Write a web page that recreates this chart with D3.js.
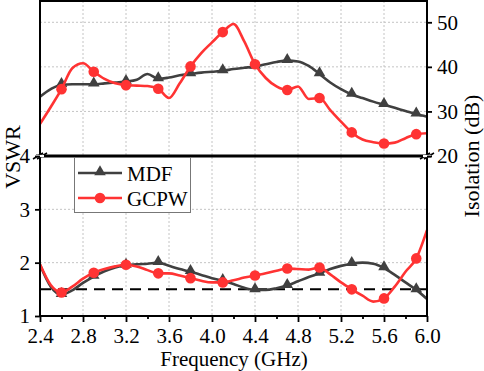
<!DOCTYPE html>
<html><head><meta charset="utf-8">
<script src="https://cdn.jsdelivr.net/npm/d3@7"></script>
<style>body{margin:0;background:#fff}svg{display:block}svg text{font-family:"Liberation Serif","Times New Roman",Times,serif !important}</style>
</head><body><svg id="c" width="484" height="371"></svg>
<script>
const freqs = d3.range(37).map(i => +(2.4 + i * 0.1).toFixed(1));
const markerFreqs = [2.6, 2.9, 3.2, 3.5, 3.8, 4.1, 4.4, 4.7, 5.0, 5.3, 5.6, 5.9];
const isoMDF = [33.3,35.0,36.0,36.1,36.1,36.1,36.3,36.5,36.7,37.1,38.4,37.3,37.6,38.1,38.4,38.7,38.9,39.1,39.5,39.8,40.1,40.6,41.1,41.4,41.2,40.2,38.4,36.5,35.0,33.8,33.0,32.2,31.5,30.8,30.1,29.4,28.8];
const isoGCPW = [27.2,31.0,35.0,39.7,40.8,38.9,37.3,36.3,35.9,35.8,35.7,35.1,33.0,36.3,40.1,43.1,45.5,47.8,49.6,45.7,40.6,37.5,35.6,34.8,35.6,32.8,33.0,30.3,27.7,25.3,23.7,23.1,22.8,23.0,24.0,24.9,25.1];
const vswrMDF = [1.96,1.55,1.40,1.48,1.62,1.74,1.84,1.91,1.95,1.97,1.98,2.00,1.94,1.88,1.83,1.77,1.71,1.66,1.60,1.53,1.49,1.49,1.52,1.57,1.65,1.73,1.80,1.88,1.94,1.98,2.00,1.98,1.90,1.77,1.63,1.49,1.32];
const vswrGCPW = [1.97,1.58,1.44,1.55,1.70,1.81,1.88,1.93,1.96,1.93,1.86,1.80,1.80,1.76,1.71,1.66,1.63,1.63,1.67,1.72,1.76,1.80,1.85,1.89,1.88,1.87,1.91,1.78,1.63,1.50,1.38,1.27,1.33,1.55,1.83,2.08,2.61];
const xTicks = [2.4, 2.8, 3.2, 3.6, 4.0, 4.4, 4.8, 5.2, 5.6, 6.0];
const isoTicks = [20, 30, 40, 50];
const vswrTicks = [1, 2, 3, 4];
const refVSWR = 1.5;
const seriesNames = ["MDF", "GCPW"];
const colors = {MDF: "#404040", GCPW: "#ff3333"};

const FONT = '"Liberation Serif","Times New Roman",Times,serif';
const svg = d3.select("#c");
const L = 40, R = 427, T = 1, MID = 156, B = 316;
const x = d3.scaleLinear().domain([2.4, 6.0]).range([L, R]);
const yT = d3.scaleLinear().domain([20, 55]).range([MID, T - 1]);
const yB = d3.scaleLinear().domain([1, 4]).range([B, MID]);

// grid
const g = svg.append("g").attr("stroke", "#c4c4c4").attr("stroke-width", 1).attr("stroke-dasharray", "2,2");
xTicks.slice(1, -1).forEach(t => {
  g.append("line").attr("x1", x(t)).attr("x2", x(t)).attr("y1", T).attr("y2", B);
});
isoTicks.slice(1).forEach(t => g.append("line").attr("x1", L).attr("x2", R).attr("y1", yT(t)).attr("y2", yT(t)));
vswrTicks.slice(1, -1).forEach(t => g.append("line").attr("x1", L).attr("x2", R).attr("y1", yB(t)).attr("y2", yB(t)));

// reference dashed line
svg.append("line").attr("x1", x(2.4)).attr("x2", x(6.0)).attr("y1", yB(refVSWR)).attr("y2", yB(refVSWR))
  .attr("stroke", "#000").attr("stroke-width", 2).attr("stroke-dasharray", "11,7");

function drawSeries(vals, y, name) {
  const data = freqs.map((f, i) => [f, vals[i]]);
  const line = d3.line().x(d => x(d[0])).y(d => y(d[1])).curve(d3.curveMonotoneX);
  svg.append("path").datum(data).attr("d", line).attr("fill", "none")
    .attr("stroke", colors[name]).attr("stroke-width", 2.6);
  const mk = data.filter(d => markerFreqs.some(m => Math.abs(m - d[0]) < 1e-6));
  if (name === "MDF") {
    const sym = d3.symbol().type(d3.symbolTriangle).size(58);
    svg.selectAll(null).data(mk).enter().append("path").attr("d", sym)
      .attr("transform", d => `translate(${x(d[0])},${y(d[1]) - 1})`).attr("fill", colors[name]);
  } else {
    svg.selectAll(null).data(mk).enter().append("circle").attr("cx", d => x(d[0])).attr("cy", d => y(d[1]))
      .attr("r", 5.3).attr("fill", colors[name]);
  }
}
drawSeries(isoMDF, yT, "MDF");
drawSeries(isoGCPW, yT, "GCPW");
drawSeries(vswrMDF, yB, "MDF");
drawSeries(vswrGCPW, yB, "GCPW");

// frame
const f = svg.append("g").attr("stroke", "#000").attr("fill", "none");
f.append("line").attr("x1", L).attr("x2", R).attr("y1", T).attr("y2", T).attr("stroke-width", 2);
f.append("line").attr("x1", L).attr("x2", L).attr("y1", T - 1).attr("y2", B).attr("stroke-width", 2);
f.append("line").attr("x1", R).attr("x2", R).attr("y1", T - 1).attr("y2", B).attr("stroke-width", 2);
f.append("line").attr("x1", L - 1).attr("x2", R + 1).attr("y1", B).attr("y2", B).attr("stroke-width", 2);
f.append("line").attr("x1", L - 4).attr("x2", R + 4).attr("y1", MID).attr("y2", MID).attr("stroke-width", 3);
// break marks
[L, R].forEach(cx => {
  [-2, 2].forEach(dx => {
    svg.append("line").attr("x1", cx + dx - 5).attr("y1", MID + 3).attr("x2", cx + dx + 5).attr("y2", MID - 3)
      .attr("stroke", "#000").attr("stroke-width", 1.5);
  });
  svg.append("line").attr("x1", cx - 4).attr("y1", MID).attr("x2", cx + 4).attr("y2", MID).attr("stroke", "#fff").attr("stroke-width", 2.2);
});

// axes
svg.append("g").attr("transform", `translate(0,${B})`)
  .call(d3.axisBottom(x).tickValues(xTicks).tickFormat(d3.format(".1f")).tickSize(6).tickPadding(6));
svg.append("g").attr("transform", `translate(0,${B})`)
  .call(d3.axisBottom(x).tickValues(xTicks.slice(0, -1).map(t => +(t + 0.2).toFixed(1))).tickFormat("").tickSize(3));
svg.append("g").attr("transform", `translate(${L},0)`)
  .call(d3.axisLeft(yB).tickValues(vswrTicks).tickFormat(d3.format("d")).tickSize(5).tickPadding(5));
svg.append("g").attr("transform", `translate(${R},0)`)
  .call(d3.axisRight(yT).tickValues(isoTicks).tickFormat(d3.format("d")).tickSize(5).tickPadding(5));
svg.selectAll(".domain").remove();
svg.selectAll("g[font-family]").attr("font-family", FONT);
svg.selectAll(".tick line").attr("stroke", "#000").attr("stroke-width", 1.8);
svg.selectAll(".tick text").attr("font-size", 21).attr("fill", "#000").style("font-family", FONT);

// axis titles
svg.append("text").attr("x", 234).attr("y", 366).attr("text-anchor", "middle").attr("font-size", 21).style("font-family", FONT).text("Frequency (GHz)");
svg.append("text").attr("transform", "translate(20,157) rotate(-90)").attr("text-anchor", "middle").attr("font-size", 22).style("font-family", FONT).text("VSWR");
svg.append("text").attr("transform", "translate(479,156) rotate(-90)").attr("text-anchor", "middle").attr("font-size", 22).style("font-family", FONT).text("Isolation (dB)");

// legend
const lg = svg.append("g");
lg.append("rect").attr("x", 74.5).attr("y", 157.5).attr("width", 116).attr("height", 55).attr("fill", "#fff").attr("stroke", "#777").attr("stroke-width", 1);
seriesNames.forEach((n, i) => {
  const yy = 173 + i * 25;
  lg.append("line").attr("x1", 78).attr("x2", 122).attr("y1", yy).attr("y2", yy).attr("stroke", colors[n]).attr("stroke-width", 2.6);
  if (n === "MDF") lg.append("path").attr("d", d3.symbol().type(d3.symbolTriangle).size(58)).attr("transform", `translate(100,${yy - 1})`).attr("fill", colors[n]);
  else lg.append("circle").attr("cx", 100).attr("cy", yy).attr("r", 5.3).attr("fill", colors[n]);
  lg.append("text").attr("x", 127).attr("y", yy + 8).attr("font-size", 21).style("font-family", FONT).text(n);
});
</script></body></html>
